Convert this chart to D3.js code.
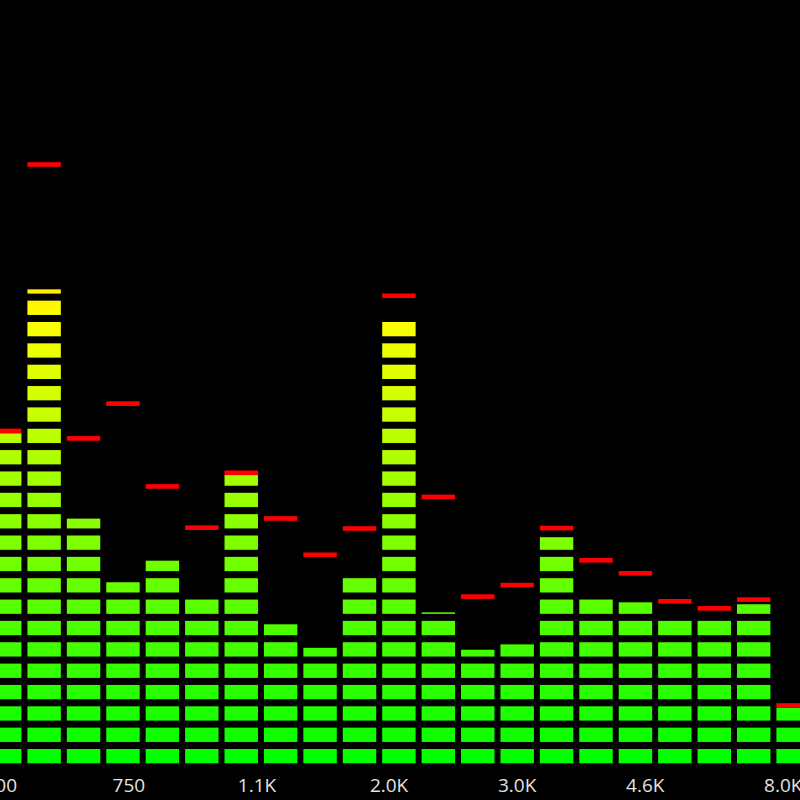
<!DOCTYPE html>
<html>
<head>
<meta charset="utf-8">
<script src="https://cdn.jsdelivr.net/npm/d3@7/dist/d3.min.js"></script>
<style>
  html, body { margin: 0; padding: 0; background: #000; overflow: hidden; }
  svg { display: block; }
</style>
</head>
<body>
<svg id="chart" width="800" height="800"></svg>
<script>
// ---- data (levels in LED-segment units) ----
const categories = ["500","560","650","750","850","960","1.1K","1.3K","1.5K","1.7K","2.0K",
                    "2.3K","2.6K","3.0K","3.4K","3.9K","4.6K","5.2K","6.0K","6.9K","8.0K"];
const levels = [15.46, 22.20, 11.46, 8.48, 9.49, 7.67, 13.50, 6.51, 5.41, 8.70, 20.68,
                7.07, 5.32, 5.57, 10.59, 7.67, 7.54, 6.67, 6.67, 7.45, 2.60];
const peaks  = [15.46, 27.94, 15.11, 16.74, 12.86, 10.93, 13.50, 11.36, 9.66, 10.89, 21.79,
                12.37, 7.70, 8.24, 10.91, 9.40, 8.79, 7.48, 7.15, 7.56, 2.60];
const tickLabels = ["500","750","1.1K","2.0K","3.0K","4.6K","8.0K"];
const tickBandIndex = [-0.1, 3.15, 6.4, 9.75, 13, 16.25, 19.75];
const segmentCount = 36;

// ---- layout ----
const W = 800, H = 800;
const baseY = 763.3, pitch = 21.35, segFill = 0.67;
const step = 39.42, pIn = 0.152, x0 = -12.0;

const svg = d3.select("#chart");
svg.append("rect").attr("width", W).attr("height", H).attr("fill", "#000");

const x = d3.scaleBand().domain(categories)
  .range([x0, x0 + step * (categories.length - pIn)])
  .paddingInner(pIn).paddingOuter(0);
const y = d3.scaleLinear().domain([0, segmentCount])
  .range([baseY, baseY - segmentCount * pitch]);

// gradient green -> yellow -> red by absolute height
const defs = svg.append("defs");
const grad = defs.append("linearGradient").attr("id", "lvl")
  .attr("gradientUnits", "userSpaceOnUse")
  .attr("x1", 0).attr("x2", 0)
  .attr("y1", y(0)).attr("y2", y(segmentCount));
grad.append("stop").attr("offset", 0).attr("stop-color", "#00ff00");
grad.append("stop").attr("offset", 0.58).attr("stop-color", "#ffff00");
grad.append("stop").attr("offset", 1).attr("stop-color", "#ff2000");

const bars = categories.map((c, i) => ({ c, v: levels[i], p: peaks[i] }));

// segments
const segs = [];
bars.forEach(b => {
  d3.range(segmentCount).forEach(k => {
    if (b.v > k) segs.push({ c: b.c, lo: k, hi: Math.min(b.v, k + segFill) });
  });
});
svg.append("g").selectAll("rect").data(segs).join("rect")
  .attr("x", d => x(d.c))
  .attr("width", x.bandwidth())
  .attr("y", d => y(d.hi))
  .attr("height", d => y(d.lo) - y(d.hi))
  .attr("fill", "url(#lvl)");

// peak markers
const peakH = 4.6;
svg.append("g").selectAll("rect").data(bars).join("rect")
  .attr("x", d => x(d.c))
  .attr("width", x.bandwidth())
  .attr("y", d => y(d.p) - peakH)
  .attr("height", peakH)
  .attr("fill", "#ff0000");

// x labels
const xi = d3.scaleLinear().domain([0, categories.length - 1])
  .range([x(categories[0]) + x.bandwidth() / 2,
          x(categories[categories.length - 1]) + x.bandwidth() / 2]);
svg.append("g").selectAll("text").data(tickLabels).join("text")
  .attr("x", (d, i) => xi(tickBandIndex[i]))
  .attr("y", 791.5)
  .attr("text-anchor", "middle")
  .attr("font-family", "'Open Sans', 'Noto Sans', sans-serif")
  .attr("font-size", 19)
  .attr("fill", "#e2e2e2")
  .text(d => d);
</script>
</body>
</html>
